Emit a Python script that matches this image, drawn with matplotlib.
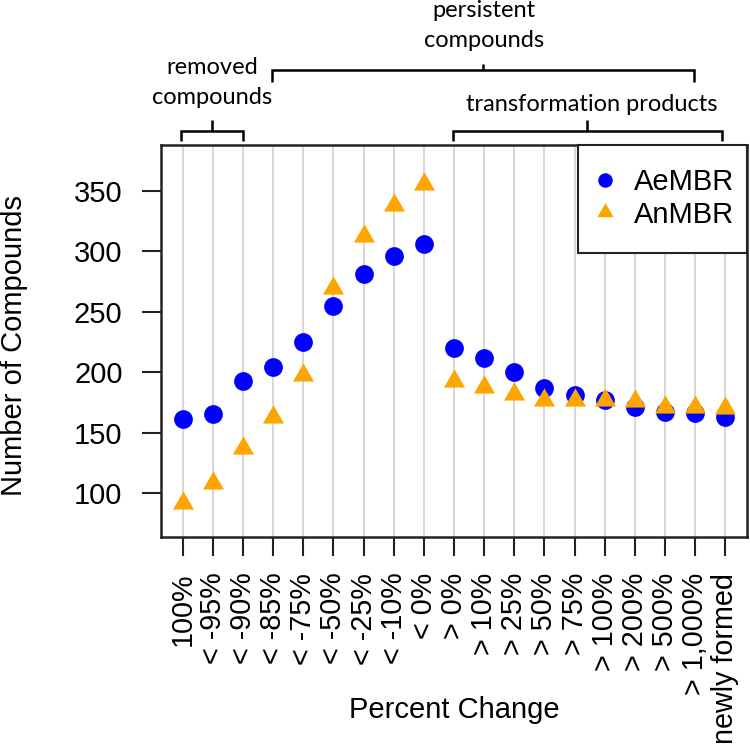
import matplotlib
matplotlib.use("Agg")
import matplotlib.pyplot as plt
from matplotlib.lines import Line2D
from matplotlib.patches import Rectangle

categories = ["100%", "< -95%", "< -90%", "< -85%", "< -75%", "< -50%", "< -25%",
              "< -10%", "< 0%", "> 0%", "> 10%", "> 25%", "> 50%", "> 75%",
              "> 100%", "> 200%", "> 500%", "> 1,000%", "newly formed"]
aembr = [161, 165, 193, 204, 225, 255, 281, 296, 306, 220, 212, 200, 187, 181,
         177, 171, 167, 166, 163]
anmbr = [92, 108, 137, 163, 198, 270, 313, 338, 356, 193, 188, 182, 177, 177,
         177, 176, 171, 171, 170]
yticks = [100, 150, 200, 250, 300, 350]

W, H = 750, 751
plt.rcParams['font.family'] = ['Liberation Sans', 'DejaVu Sans']
fig = plt.figure(figsize=(W / 100, H / 100), dpi=100)

L, R, T, B = 161, 747, 145, 537
ax = fig.add_axes([L / W, 1 - B / H, (R - L) / W, (B - T) / H])

x = list(range(1, len(categories) + 1))
tri = [(0, 1), (-0.866, -0.5), (0.866, -0.5), (0, 1)]

ax.plot(x, aembr, linestyle='none', marker='o', markersize=13.5,
        markerfacecolor='#0000FF', markeredgewidth=0, label='AeMBR', zorder=3)
ax.plot(x, anmbr, linestyle='none', marker=tri, markersize=17.5,
        markerfacecolor='#FFA500', markeredgewidth=0, label='AnMBR', zorder=4)

ax.set_xlim(0.28, 19.72)
ax.set_ylim(63.6, 388)
ax.set_xticks(x)
ax.set_xticklabels(categories, rotation=90, fontsize=20.7)
ax.set_yticks(yticks)
ax.set_yticklabels([str(v) for v in yticks], fontsize=21)
ax.tick_params(axis='both', direction='out', length=13.7, width=1.5, color='#222222')
ax.tick_params(axis='y', pad=14)
ax.tick_params(axis='x', pad=12)
ax.grid(axis='x', color='#d3d3d3', linewidth=1.3)
ax.set_axisbelow(True)
for s in ax.spines.values():
    s.set_linewidth(1.8)
    s.set_color('#222222')

ax.set_xlabel('Percent Change', fontsize=21)
ax.xaxis.set_label_coords(0.5, (B - 710) / (B - T))
ax.xaxis.label.set_va('center')
ax.set_ylabel('Number of Compounds', fontsize=21)
ax.yaxis.set_label_coords((14 - L) / (R - L), (B - 346) / (B - T))
ax.yaxis.label.set_va('center')

# legend box
rx0 = (578 - L) / (R - L)
ry0 = (B - 253) / (B - T)
ax.add_patch(Rectangle((rx0, ry0), 1 - rx0, 1 - ry0, transform=ax.transAxes,
                       facecolor='white', edgecolor='#222222', linewidth=1.5,
                       zorder=5, clip_on=False))
leg = ax.legend(loc='center left',
                bbox_to_anchor=((590 - L) / (R - L), (B - 198.5) / (B - T)),
                frameon=False, fontsize=21, borderpad=0, borderaxespad=0,
                handlelength=1.0, handletextpad=0.5, labelspacing=0.15,
                markerscale=0.77)
leg.set_zorder(6)


def fx(px):
    return px / W


def fy(py):
    return 1 - py / H


def bracket(x0, x1, xc, y, yend, ytop):
    kw = dict(transform=fig.transFigure, color='black', linewidth=1.8,
              solid_capstyle='butt', solid_joinstyle='miter')
    fig.add_artist(Line2D([fx(x0), fx(x0), fx(x1), fx(x1)],
                          [fy(yend), fy(y), fy(y), fy(yend)], **kw))
    fig.add_artist(Line2D([fx(xc), fx(xc)], [fy(y), fy(ytop)], **kw))


bracket(181, 243, 212, 130.5, 141, 119.5)
bracket(272, 694, 483, 69.5, 81.5, 63.5)
bracket(453, 722, 587, 130.5, 141, 120)

afont = dict(family=['Lato', 'DejaVu Sans'], fontsize=17, ha='center', va='baseline')
fig.text(fx(212), fy(74), 'removed', **afont)
fig.text(fx(212), fy(104), 'compounds', **afont)
fig.text(fx(484), fy(17), 'persistent', **afont)
fig.text(fx(484), fy(47), 'compounds', **afont)
fig.text(fx(592), fy(111), 'transformation products', **afont)

fig.savefig('out.png', dpi=100)
